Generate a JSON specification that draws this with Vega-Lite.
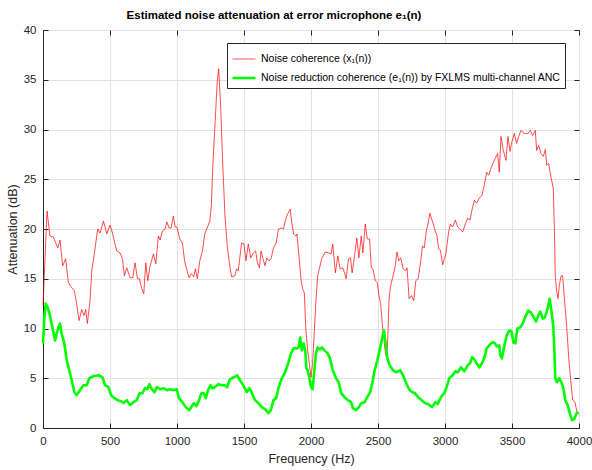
{
  "$schema": "https://vega.github.io/schema/vega-lite/v6.json",
  "width": 536,
  "height": 398,
  "autosize": {"type": "none"},
  "padding": {"left": 43, "top": 30, "right": 13, "bottom": 42},
  "background": "white",
  "title": {"text": "Estimated noise attenuation at error microphone e₁(n)", "font": "Liberation Sans", "fontSize": 11.5, "fontWeight": "bold", "color": "#000000", "anchor": "middle", "dx": -37, "offset": 3},
  "config": {
    "view": {"stroke": "#262626", "strokeWidth": 1},
    "font": "Liberation Sans",
    "axis": {"labelFont": "Liberation Sans", "labelFontSize": 11.5, "labelColor": "#262626", "titleFont": "Liberation Sans", "titleFontSize": 12.5, "titleFontWeight": "normal", "titleColor": "#262626", "gridColor": "#e3e3e3", "gridWidth": 1, "domainColor": "#262626", "tickColor": "#262626", "tickSize": -5, "format": "d"}
  },
  "datasets": {
    "pts": [
{"f":0,"v":12.3,"s":"x"},{"f":30,"v":21.8,"s":"x"},{"f":52,"v":19.3,"s":"x"},{"f":77,"v":19.2,"s":"x"},{"f":110,"v":18.1,"s":"x"},{"f":127,"v":18.9,"s":"x"},{"f":147,"v":16.3,"s":"x"},{"f":169,"v":17.0,"s":"x"},{"f":189,"v":14.6,"s":"x"},{"f":214,"v":14.1,"s":"x"},{"f":234,"v":13.8,"s":"x"},{"f":251,"v":12.5,"s":"x"},{"f":269,"v":10.8,"s":"x"},{"f":289,"v":11.9,"s":"x"},{"f":306,"v":11.3,"s":"x"},{"f":319,"v":11.9,"s":"x"},{"f":331,"v":10.5,"s":"x"},{"f":351,"v":12.8,"s":"x"},{"f":364,"v":15.8,"s":"x"},{"f":383,"v":17.5,"s":"x"},{"f":408,"v":20.0,"s":"x"},{"f":426,"v":19.6,"s":"x"},{"f":451,"v":20.8,"s":"x"},{"f":476,"v":19.5,"s":"x"},{"f":500,"v":20.4,"s":"x"},{"f":518,"v":19.6,"s":"x"},{"f":550,"v":17.8,"s":"x"},{"f":575,"v":17.6,"s":"x"},{"f":593,"v":17.0,"s":"x"},{"f":607,"v":15.3,"s":"x"},{"f":625,"v":16.1,"s":"x"},{"f":650,"v":15.1,"s":"x"},{"f":670,"v":15.1,"s":"x"},{"f":687,"v":16.6,"s":"x"},{"f":705,"v":15.0,"s":"x"},{"f":720,"v":15.0,"s":"x"},{"f":737,"v":14.0,"s":"x"},{"f":752,"v":13.5,"s":"x"},{"f":767,"v":16.6,"s":"x"},{"f":782,"v":14.8,"s":"x"},{"f":799,"v":16.3,"s":"x"},{"f":824,"v":17.5,"s":"x"},{"f":842,"v":16.5,"s":"x"},{"f":861,"v":19.3,"s":"x"},{"f":874,"v":18.9,"s":"x"},{"f":891,"v":19.8,"s":"x"},{"f":911,"v":20.0,"s":"x"},{"f":924,"v":20.7,"s":"x"},{"f":941,"v":20.1,"s":"x"},{"f":956,"v":20.1,"s":"x"},{"f":973,"v":21.3,"s":"x"},{"f":986,"v":20.2,"s":"x"},{"f":1000,"v":20.2,"s":"x"},{"f":1020,"v":19.0,"s":"x"},{"f":1040,"v":18.6,"s":"x"},{"f":1057,"v":16.8,"s":"x"},{"f":1075,"v":15.8,"s":"x"},{"f":1090,"v":15.1,"s":"x"},{"f":1107,"v":15.5,"s":"x"},{"f":1125,"v":15.2,"s":"x"},{"f":1137,"v":16.0,"s":"x"},{"f":1152,"v":15.0,"s":"x"},{"f":1170,"v":16.8,"s":"x"},{"f":1190,"v":17.8,"s":"x"},{"f":1207,"v":19.5,"s":"x"},{"f":1225,"v":20.1,"s":"x"},{"f":1245,"v":20.8,"s":"x"},{"f":1256,"v":22.3,"s":"x"},{"f":1266,"v":26.0,"s":"x"},{"f":1284,"v":30.6,"s":"x"},{"f":1301,"v":35.0,"s":"x"},{"f":1311,"v":36.1,"s":"x"},{"f":1326,"v":32.3,"s":"x"},{"f":1341,"v":26.6,"s":"x"},{"f":1358,"v":21.3,"s":"x"},{"f":1375,"v":18.3,"s":"x"},{"f":1392,"v":16.5,"s":"x"},{"f":1407,"v":15.2,"s":"x"},{"f":1432,"v":15.3,"s":"x"},{"f":1445,"v":16.0,"s":"x"},{"f":1457,"v":15.8,"s":"x"},{"f":1482,"v":18.6,"s":"x"},{"f":1500,"v":18.5,"s":"x"},{"f":1515,"v":16.8,"s":"x"},{"f":1532,"v":18.5,"s":"x"},{"f":1550,"v":17.1,"s":"x"},{"f":1570,"v":17.6,"s":"x"},{"f":1587,"v":17.8,"s":"x"},{"f":1600,"v":16.6,"s":"x"},{"f":1615,"v":16.1,"s":"x"},{"f":1627,"v":17.8,"s":"x"},{"f":1640,"v":17.1,"s":"x"},{"f":1657,"v":16.3,"s":"x"},{"f":1670,"v":17.1,"s":"x"},{"f":1687,"v":16.8,"s":"x"},{"f":1702,"v":17.0,"s":"x"},{"f":1720,"v":18.1,"s":"x"},{"f":1740,"v":18.6,"s":"x"},{"f":1757,"v":20.0,"s":"x"},{"f":1777,"v":20.1,"s":"x"},{"f":1795,"v":20.0,"s":"x"},{"f":1807,"v":20.8,"s":"x"},{"f":1825,"v":21.5,"s":"x"},{"f":1845,"v":22.0,"s":"x"},{"f":1857,"v":20.6,"s":"x"},{"f":1870,"v":19.5,"s":"x"},{"f":1887,"v":19.3,"s":"x"},{"f":1895,"v":19.5,"s":"x"},{"f":1912,"v":17.0,"s":"x"},{"f":1925,"v":15.0,"s":"x"},{"f":1937,"v":14.0,"s":"x"},{"f":1950,"v":13.6,"s":"x"},{"f":1962,"v":9.8,"s":"x"},{"f":1975,"v":7.8,"s":"x"},{"f":1987,"v":6.5,"s":"x"},{"f":2000,"v":5.1,"s":"x"},{"f":2012,"v":6.5,"s":"x"},{"f":2025,"v":9.8,"s":"x"},{"f":2037,"v":12.8,"s":"x"},{"f":2050,"v":15.3,"s":"x"},{"f":2062,"v":16.0,"s":"x"},{"f":2082,"v":17.1,"s":"x"},{"f":2107,"v":17.7,"s":"x"},{"f":2132,"v":17.6,"s":"x"},{"f":2150,"v":17.5,"s":"x"},{"f":2162,"v":18.5,"s":"x"},{"f":2182,"v":15.6,"s":"x"},{"f":2200,"v":17.3,"s":"x"},{"f":2217,"v":16.0,"s":"x"},{"f":2237,"v":16.1,"s":"x"},{"f":2250,"v":15.6,"s":"x"},{"f":2262,"v":15.0,"s":"x"},{"f":2280,"v":17.0,"s":"x"},{"f":2295,"v":17.1,"s":"x"},{"f":2307,"v":15.6,"s":"x"},{"f":2325,"v":17.3,"s":"x"},{"f":2342,"v":19.1,"s":"x"},{"f":2357,"v":17.1,"s":"x"},{"f":2375,"v":19.3,"s":"x"},{"f":2387,"v":17.6,"s":"x"},{"f":2405,"v":20.5,"s":"x"},{"f":2420,"v":19.0,"s":"x"},{"f":2437,"v":19.0,"s":"x"},{"f":2450,"v":16.1,"s":"x"},{"f":2462,"v":16.0,"s":"x"},{"f":2480,"v":14.8,"s":"x"},{"f":2495,"v":14.6,"s":"x"},{"f":2507,"v":13.3,"s":"x"},{"f":2520,"v":12.5,"s":"x"},{"f":2532,"v":10.5,"s":"x"},{"f":2545,"v":8.8,"s":"x"},{"f":2557,"v":7.3,"s":"x"},{"f":2567,"v":7.1,"s":"x"},{"f":2575,"v":9.8,"s":"x"},{"f":2582,"v":12.8,"s":"x"},{"f":2592,"v":14.1,"s":"x"},{"f":2607,"v":15.0,"s":"x"},{"f":2625,"v":16.0,"s":"x"},{"f":2642,"v":17.7,"s":"x"},{"f":2655,"v":16.8,"s":"x"},{"f":2670,"v":17.1,"s":"x"},{"f":2687,"v":16.0,"s":"x"},{"f":2705,"v":15.8,"s":"x"},{"f":2717,"v":16.1,"s":"x"},{"f":2732,"v":13.0,"s":"x"},{"f":2750,"v":13.3,"s":"x"},{"f":2767,"v":12.8,"s":"x"},{"f":2782,"v":14.8,"s":"x"},{"f":2800,"v":15.0,"s":"x"},{"f":2817,"v":16.6,"s":"x"},{"f":2832,"v":18.3,"s":"x"},{"f":2845,"v":18.1,"s":"x"},{"f":2862,"v":19.9,"s":"x"},{"f":2875,"v":20.6,"s":"x"},{"f":2887,"v":21.6,"s":"x"},{"f":2900,"v":21.0,"s":"x"},{"f":2913,"v":20.5,"s":"x"},{"f":2928,"v":19.7,"s":"x"},{"f":2938,"v":19.5,"s":"x"},{"f":2953,"v":18.0,"s":"x"},{"f":2965,"v":17.9,"s":"x"},{"f":2983,"v":16.4,"s":"x"},{"f":2995,"v":17.0,"s":"x"},{"f":3007,"v":17.5,"s":"x"},{"f":3027,"v":19.7,"s":"x"},{"f":3040,"v":20.5,"s":"x"},{"f":3057,"v":20.2,"s":"x"},{"f":3077,"v":20.9,"s":"x"},{"f":3095,"v":20.2,"s":"x"},{"f":3119,"v":19.9,"s":"x"},{"f":3132,"v":19.7,"s":"x"},{"f":3152,"v":20.5,"s":"x"},{"f":3169,"v":21.1,"s":"x"},{"f":3187,"v":20.9,"s":"x"},{"f":3201,"v":21.9,"s":"x"},{"f":3219,"v":22.9,"s":"x"},{"f":3236,"v":22.6,"s":"x"},{"f":3256,"v":23.1,"s":"x"},{"f":3276,"v":23.4,"s":"x"},{"f":3293,"v":24.4,"s":"x"},{"f":3311,"v":25.7,"s":"x"},{"f":3326,"v":25.4,"s":"x"},{"f":3343,"v":26.1,"s":"x"},{"f":3361,"v":26.7,"s":"x"},{"f":3375,"v":27.1,"s":"x"},{"f":3393,"v":27.6,"s":"x"},{"f":3405,"v":25.7,"s":"x"},{"f":3418,"v":29.3,"s":"x"},{"f":3435,"v":27.9,"s":"x"},{"f":3455,"v":26.9,"s":"x"},{"f":3470,"v":29.3,"s":"x"},{"f":3485,"v":27.8,"s":"x"},{"f":3500,"v":28.8,"s":"x"},{"f":3517,"v":29.6,"s":"x"},{"f":3535,"v":28.6,"s":"x"},{"f":3550,"v":29.3,"s":"x"},{"f":3567,"v":29.9,"s":"x"},{"f":3592,"v":29.6,"s":"x"},{"f":3617,"v":29.6,"s":"x"},{"f":3637,"v":29.9,"s":"x"},{"f":3654,"v":29.4,"s":"x"},{"f":3674,"v":29.9,"s":"x"},{"f":3684,"v":27.9,"s":"x"},{"f":3699,"v":28.4,"s":"x"},{"f":3716,"v":27.6,"s":"x"},{"f":3734,"v":27.3,"s":"x"},{"f":3749,"v":28.0,"s":"x"},{"f":3759,"v":26.4,"s":"x"},{"f":3773,"v":26.6,"s":"x"},{"f":3791,"v":25.2,"s":"x"},{"f":3808,"v":24.1,"s":"x"},{"f":3816,"v":20.2,"s":"x"},{"f":3823,"v":15.2,"s":"x"},{"f":3833,"v":13.8,"s":"x"},{"f":3843,"v":13.0,"s":"x"},{"f":3853,"v":14.3,"s":"x"},{"f":3866,"v":15.3,"s":"x"},{"f":3878,"v":15.3,"s":"x"},{"f":3890,"v":13.2,"s":"x"},{"f":3908,"v":10.2,"s":"x"},{"f":3923,"v":7.1,"s":"x"},{"f":3940,"v":4.5,"s":"x"},{"f":3953,"v":2.8,"s":"x"},{"f":3970,"v":2.6,"s":"x"},{"f":3985,"v":1.6,"s":"x"},{"f":3995,"v":1.4,"s":"x"},
{"f":0,"v":8.5,"s":"e"},{"f":10,"v":11.1,"s":"e"},{"f":20,"v":12.5,"s":"e"},{"f":35,"v":12.1,"s":"e"},{"f":52,"v":11.3,"s":"e"},{"f":70,"v":10.1,"s":"e"},{"f":90,"v":8.8,"s":"e"},{"f":102,"v":9.5,"s":"e"},{"f":115,"v":10.1,"s":"e"},{"f":127,"v":10.5,"s":"e"},{"f":139,"v":9.5,"s":"e"},{"f":159,"v":8.5,"s":"e"},{"f":177,"v":6.8,"s":"e"},{"f":202,"v":5.5,"s":"e"},{"f":219,"v":4.5,"s":"e"},{"f":234,"v":3.6,"s":"e"},{"f":251,"v":3.3,"s":"e"},{"f":276,"v":3.8,"s":"e"},{"f":301,"v":4.3,"s":"e"},{"f":326,"v":4.3,"s":"e"},{"f":346,"v":5.0,"s":"e"},{"f":376,"v":5.2,"s":"e"},{"f":413,"v":5.3,"s":"e"},{"f":443,"v":5.1,"s":"e"},{"f":463,"v":4.3,"s":"e"},{"f":488,"v":4.1,"s":"e"},{"f":508,"v":3.3,"s":"e"},{"f":533,"v":3.0,"s":"e"},{"f":558,"v":2.8,"s":"e"},{"f":583,"v":2.7,"s":"e"},{"f":600,"v":2.5,"s":"e"},{"f":625,"v":2.8,"s":"e"},{"f":650,"v":2.3,"s":"e"},{"f":675,"v":2.6,"s":"e"},{"f":700,"v":2.8,"s":"e"},{"f":720,"v":3.5,"s":"e"},{"f":742,"v":3.5,"s":"e"},{"f":762,"v":4.0,"s":"e"},{"f":779,"v":3.9,"s":"e"},{"f":794,"v":4.4,"s":"e"},{"f":812,"v":3.9,"s":"e"},{"f":832,"v":3.6,"s":"e"},{"f":849,"v":4.1,"s":"e"},{"f":874,"v":3.9,"s":"e"},{"f":899,"v":4.0,"s":"e"},{"f":924,"v":3.8,"s":"e"},{"f":949,"v":3.9,"s":"e"},{"f":974,"v":3.8,"s":"e"},{"f":998,"v":3.9,"s":"e"},{"f":1015,"v":3.0,"s":"e"},{"f":1040,"v":2.6,"s":"e"},{"f":1065,"v":2.1,"s":"e"},{"f":1090,"v":1.8,"s":"e"},{"f":1107,"v":2.1,"s":"e"},{"f":1125,"v":2.5,"s":"e"},{"f":1145,"v":2.2,"s":"e"},{"f":1165,"v":2.8,"s":"e"},{"f":1182,"v":3.5,"s":"e"},{"f":1200,"v":3.5,"s":"e"},{"f":1215,"v":3.0,"s":"e"},{"f":1232,"v":3.8,"s":"e"},{"f":1250,"v":4.3,"s":"e"},{"f":1265,"v":4.0,"s":"e"},{"f":1282,"v":4.1,"s":"e"},{"f":1307,"v":4.4,"s":"e"},{"f":1332,"v":4.3,"s":"e"},{"f":1357,"v":4.3,"s":"e"},{"f":1375,"v":4.1,"s":"e"},{"f":1395,"v":4.9,"s":"e"},{"f":1425,"v":5.1,"s":"e"},{"f":1450,"v":5.3,"s":"e"},{"f":1470,"v":4.8,"s":"e"},{"f":1495,"v":4.3,"s":"e"},{"f":1520,"v":3.6,"s":"e"},{"f":1540,"v":4.0,"s":"e"},{"f":1557,"v":3.6,"s":"e"},{"f":1582,"v":2.8,"s":"e"},{"f":1607,"v":2.5,"s":"e"},{"f":1632,"v":2.1,"s":"e"},{"f":1657,"v":1.9,"s":"e"},{"f":1682,"v":1.5,"s":"e"},{"f":1700,"v":1.8,"s":"e"},{"f":1720,"v":2.8,"s":"e"},{"f":1740,"v":3.0,"s":"e"},{"f":1757,"v":4.0,"s":"e"},{"f":1782,"v":5.0,"s":"e"},{"f":1807,"v":5.6,"s":"e"},{"f":1832,"v":6.6,"s":"e"},{"f":1850,"v":7.5,"s":"e"},{"f":1870,"v":8.0,"s":"e"},{"f":1895,"v":8.0,"s":"e"},{"f":1907,"v":8.1,"s":"e"},{"f":1920,"v":9.1,"s":"e"},{"f":1932,"v":7.8,"s":"e"},{"f":1945,"v":8.5,"s":"e"},{"f":1957,"v":7.8,"s":"e"},{"f":1965,"v":6.0,"s":"e"},{"f":1975,"v":5.8,"s":"e"},{"f":1987,"v":5.1,"s":"e"},{"f":2000,"v":4.1,"s":"e"},{"f":2012,"v":3.9,"s":"e"},{"f":2025,"v":5.8,"s":"e"},{"f":2037,"v":7.5,"s":"e"},{"f":2050,"v":8.1,"s":"e"},{"f":2067,"v":7.9,"s":"e"},{"f":2082,"v":8.1,"s":"e"},{"f":2100,"v":7.8,"s":"e"},{"f":2125,"v":7.5,"s":"e"},{"f":2142,"v":7.0,"s":"e"},{"f":2162,"v":5.8,"s":"e"},{"f":2187,"v":5.0,"s":"e"},{"f":2207,"v":4.6,"s":"e"},{"f":2225,"v":3.5,"s":"e"},{"f":2250,"v":3.1,"s":"e"},{"f":2275,"v":2.8,"s":"e"},{"f":2300,"v":2.6,"s":"e"},{"f":2312,"v":2.0,"s":"e"},{"f":2337,"v":1.8,"s":"e"},{"f":2357,"v":2.1,"s":"e"},{"f":2375,"v":2.5,"s":"e"},{"f":2400,"v":2.6,"s":"e"},{"f":2420,"v":3.1,"s":"e"},{"f":2442,"v":3.6,"s":"e"},{"f":2457,"v":4.5,"s":"e"},{"f":2475,"v":5.8,"s":"e"},{"f":2495,"v":6.8,"s":"e"},{"f":2512,"v":7.8,"s":"e"},{"f":2532,"v":9.1,"s":"e"},{"f":2545,"v":9.8,"s":"e"},{"f":2557,"v":8.5,"s":"e"},{"f":2570,"v":7.0,"s":"e"},{"f":2587,"v":6.3,"s":"e"},{"f":2612,"v":5.8,"s":"e"},{"f":2637,"v":5.6,"s":"e"},{"f":2667,"v":5.8,"s":"e"},{"f":2687,"v":5.3,"s":"e"},{"f":2707,"v":4.6,"s":"e"},{"f":2725,"v":4.1,"s":"e"},{"f":2737,"v":3.8,"s":"e"},{"f":2757,"v":3.6,"s":"e"},{"f":2775,"v":3.5,"s":"e"},{"f":2800,"v":3.1,"s":"e"},{"f":2825,"v":2.8,"s":"e"},{"f":2850,"v":2.5,"s":"e"},{"f":2875,"v":2.4,"s":"e"},{"f":2903,"v":2.1,"s":"e"},{"f":2928,"v":2.6,"s":"e"},{"f":2945,"v":2.4,"s":"e"},{"f":2970,"v":3.1,"s":"e"},{"f":2995,"v":3.5,"s":"e"},{"f":3012,"v":4.1,"s":"e"},{"f":3032,"v":5.0,"s":"e"},{"f":3057,"v":5.3,"s":"e"},{"f":3077,"v":5.7,"s":"e"},{"f":3095,"v":5.6,"s":"e"},{"f":3119,"v":6.1,"s":"e"},{"f":3144,"v":5.7,"s":"e"},{"f":3169,"v":6.3,"s":"e"},{"f":3187,"v":6.5,"s":"e"},{"f":3201,"v":7.1,"s":"e"},{"f":3219,"v":6.9,"s":"e"},{"f":3236,"v":6.5,"s":"e"},{"f":3256,"v":6.1,"s":"e"},{"f":3276,"v":6.5,"s":"e"},{"f":3293,"v":7.0,"s":"e"},{"f":3311,"v":8.0,"s":"e"},{"f":3331,"v":8.3,"s":"e"},{"f":3351,"v":8.6,"s":"e"},{"f":3368,"v":8.6,"s":"e"},{"f":3386,"v":8.2,"s":"e"},{"f":3405,"v":8.3,"s":"e"},{"f":3413,"v":7.3,"s":"e"},{"f":3425,"v":7.0,"s":"e"},{"f":3443,"v":8.3,"s":"e"},{"f":3460,"v":9.3,"s":"e"},{"f":3480,"v":9.8,"s":"e"},{"f":3497,"v":9.7,"s":"e"},{"f":3510,"v":8.6,"s":"e"},{"f":3525,"v":8.5,"s":"e"},{"f":3540,"v":10.0,"s":"e"},{"f":3560,"v":10.1,"s":"e"},{"f":3580,"v":10.5,"s":"e"},{"f":3600,"v":11.2,"s":"e"},{"f":3622,"v":11.8,"s":"e"},{"f":3642,"v":11.6,"s":"e"},{"f":3659,"v":11.2,"s":"e"},{"f":3679,"v":10.7,"s":"e"},{"f":3697,"v":11.3,"s":"e"},{"f":3711,"v":11.7,"s":"e"},{"f":3729,"v":11.0,"s":"e"},{"f":3744,"v":11.1,"s":"e"},{"f":3759,"v":11.7,"s":"e"},{"f":3769,"v":12.2,"s":"e"},{"f":3781,"v":13.0,"s":"e"},{"f":3794,"v":11.8,"s":"e"},{"f":3808,"v":10.2,"s":"e"},{"f":3816,"v":7.8,"s":"e"},{"f":3823,"v":5.0,"s":"e"},{"f":3836,"v":4.6,"s":"e"},{"f":3853,"v":5.0,"s":"e"},{"f":3868,"v":4.6,"s":"e"},{"f":3883,"v":4.0,"s":"e"},{"f":3898,"v":2.8,"s":"e"},{"f":3915,"v":2.3,"s":"e"},{"f":3933,"v":1.4,"s":"e"},{"f":3948,"v":0.8,"s":"e"},{"f":3965,"v":0.9,"s":"e"},{"f":3978,"v":1.4,"s":"e"},{"f":3995,"v":1.6,"s":"e"}
    ]
  },
  "data": {"name": "pts"},
  "layer": [
    {
      "mark": {"type": "line", "strokeJoin": "round"},
      "encoding": {
        "x": {"field": "f", "type": "quantitative", "scale": {"domain": [0, 4000], "nice": false}, "axis": {"orient": "bottom", "title": "Frequency (Hz)", "values": [0,500,1000,1500,2000,2500,3000,3500,4000], "grid": true, "labelPadding": 12, "titlePadding": 6, "labelFlush": false}},
        "y": {"field": "v", "type": "quantitative", "scale": {"domain": [0, 40], "nice": false}, "axis": {"orient": "left", "title": "Attenuation (dB)", "values": [0,5,10,15,20,25,30,35,40], "grid": true, "labelPadding": 12, "titlePadding": 4, "labelFlush": false}},
        "color": {"field": "s", "type": "nominal", "scale": {"domain": ["x", "e"], "range": ["#ff0000", "#00ff00"]}, "legend": {"title": null, "orient": "none", "legendX": 184, "legendY": 13, "direction": "vertical", "labelExpr": "datum.label == 'x' ? 'Noise coherence (x₁(n))' : 'Noise reduction coherence (e₁(n)) by FXLMS multi-channel ANC'", "symbolType": "stroke", "symbolSize": 529, "labelFont": "Liberation Sans", "labelFontSize": 10.5, "labelColor": "#000000", "labelOffset": 4, "strokeColor": "#262626", "fillColor": "white", "padding": 4, "rowPadding": -1, "labelLimit": 400}},
        "strokeWidth": {"field": "s", "type": "nominal", "scale": {"domain": ["x", "e"], "range": [0.7, 2.6]}, "legend": {"title": null, "orient": "none", "legendX": 184, "legendY": 13, "direction": "vertical", "labelExpr": "datum.label == 'x' ? 'Noise coherence (x₁(n))' : 'Noise reduction coherence (e₁(n)) by FXLMS multi-channel ANC'", "symbolType": "stroke", "symbolSize": 529, "labelFont": "Liberation Sans", "labelFontSize": 10.5, "labelColor": "#000000", "labelOffset": 4, "strokeColor": "#262626", "fillColor": "white", "padding": 4, "rowPadding": -1, "labelLimit": 400}}
      }
    },
    {
      "mark": {"type": "point", "opacity": 0},
      "encoding": {
        "x": {"field": "f", "type": "quantitative", "axis": {"orient": "top", "title": null, "labels": false, "grid": false, "domain": false, "values": [0,500,1000,1500,2000,2500,3000,3500,4000]}},
        "y": {"field": "v", "type": "quantitative", "axis": {"orient": "right", "title": null, "labels": false, "grid": false, "domain": false, "values": [0,5,10,15,20,25,30,35,40]}}
      }
    }
  ],
  "resolve": {"axis": {"x": "independent", "y": "independent"}}
}
